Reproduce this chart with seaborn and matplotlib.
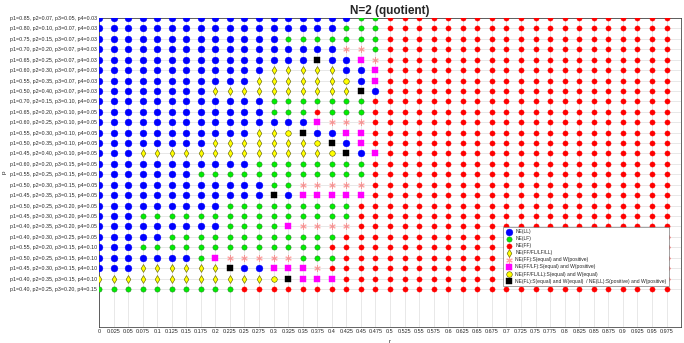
import numpy as np
import pandas as pd
import seaborn as sns
import matplotlib.pyplot as plt

# r values along the x axis
r_values = [0, 0.025, 0.05, 0.075, 0.1, 0.125, 0.15, 0.175, 0.2, 0.225,
            0.25, 0.275, 0.3, 0.325, 0.35, 0.375, 0.4, 0.425, 0.45, 0.475,
            0.5, 0.525, 0.55, 0.575, 0.6, 0.625, 0.65, 0.675, 0.7, 0.725,
            0.75, 0.775, 0.8, 0.825, 0.85, 0.875, 0.9, 0.925, 0.95, 0.975]

# probability settings (top to bottom)
p_labels = [
    "p1=0.85, p2=0.07, p3=0.05, p4=0.03",
    "p1=0.80, p2=0.10, p3=0.07, p4=0.03",
    "p1=0.75, p2=0.15, p3=0.07, p4=0.03",
    "p1=0.70, p2=0.20, p3=0.07, p4=0.03",
    "p1=0.65, p2=0.25, p3=0.07, p4=0.03",
    "p1=0.60, p2=0.30, p3=0.07, p4=0.03",
    "p1=0.55, p2=0.35, p3=0.07, p4=0.03",
    "p1=0.50, p2=0.40, p3=0.07, p4=0.03",
    "p1=0.70, p2=0.15, p3=0.10, p4=0.05",
    "p1=0.65, p2=0.20, p3=0.10, p4=0.05",
    "p1=0.60, p2=0.25, p3=0.10, p4=0.05",
    "p1=0.55, p2=0.30, p3=0.10, p4=0.05",
    "p1=0.50, p2=0.35, p3=0.10, p4=0.05",
    "p1=0.45, p2=0.40, p3=0.10, p4=0.05",
    "p1=0.60, p2=0.20, p3=0.15, p4=0.05",
    "p1=0.55, p2=0.25, p3=0.15, p4=0.05",
    "p1=0.50, p2=0.30, p3=0.15, p4=0.05",
    "p1=0.45, p2=0.35, p3=0.15, p4=0.05",
    "p1=0.50, p2=0.25, p3=0.20, p4=0.05",
    "p1=0.45, p2=0.30, p3=0.20, p4=0.05",
    "p1=0.40, p2=0.35, p3=0.20, p4=0.05",
    "p1=0.40, p2=0.30, p3=0.25, p4=0.05",
    "p1=0.55, p2=0.20, p3=0.15, p4=0.10",
    "p1=0.50, p2=0.25, p3=0.15, p4=0.10",
    "p1=0.45, p2=0.30, p3=0.15, p4=0.10",
    "p1=0.40, p2=0.35, p3=0.15, p4=0.10",
    "p1=0.40, p2=0.25, p3=0.20, p4=0.15",
]

# equilibrium type per (p row, r column)
# B=NE(LL) G=NE(LF) R=NE(FF) Y=NE(FF/FL/LF/LL) P=NE(FF):S eq W pos
# M=NE(FF/LF):S eq W pos O=NE(FF/FL/LL):S eq W eq K=NE(FL)/NE(LL) mixed
grid_rows = [
    "BBBBBBBBBBBBBBBBBBGG" "RRRRRRRRRRRRRRRRRRRR",
    "BBBBBBBBBBBBBBBBBGGG" "RRRRRRRRRRRRRRRRRRRR",
    "BBBBBBBBBBBBBGGGGGGG" "RRRRRRRRRRRRRRRRRRRR",
    "BBBBBBBBBBBBBBBBBPPG" "RRRRRRRRRRRRRRRRRRRR",
    "BBBBBBBBBBBBBBBKBBMP" "RRRRRRRRRRRRRRRRRRRR",
    "BBBBBBBBBBBBYYYYYBBM" "RRRRRRRRRRRRRRRRRRRR",
    "BBBBBBBBBBBYYYYYYOBM" "RRRRRRRRRRRRRRRRRRRR",
    "BBBBBBBBYYYYYYYYYYKB" "RRRRRRRRRRRRRRRRRRRR",
    "BBBBBBBBBBBBGGGGGGGR" "RRRRRRRRRRRRRRRRRRRR",
    "BBBBBBBBBBBBGGGRGGGR" "RRRRRRRRRRRRRRRRRRRR",
    "BBBBBBBBBBBBBBBMPPPR" "RRRRRRRRRRRRRRRRRRRR",
    "BBBBBBBBBBBYYOKBBMMR" "RRRRRRRRRRRRRRRRRRRR",
    "BBBBBBBBYYYYYYYOKBMR" "RRRRRRRRRRRRRRRRRRRR",
    "BBBYYYYYYYYYYYYYOKBM" "RRRRRRRRRRRRRRRRRRRR",
    "BBBBBBBBBBBGGGGGGGGR" "RRRRRRRRRRRRRRRRRRRR",
    "BBBBBBBGGGGGGGGGGGGR" "RRRRRRRRRRRRRRRRRRRR",
    "BBBBBBBBBBBBGGPPPPPR" "RRRRRRRRRRRRRRRRRRRR",
    "BBBBBBBBBBBBKBMMMMMR" "RRRRRRRRRRRRRRRRRRRR",
    "BBBBBBBBBGGGGGGGGGRR" "RRRRRRRRRRRRRRRRRRRR",
    "BBBGGGGGGGGGGGGGGGRR" "RRRRRRRRRRRRRRRRRRRR",
    "BBBBBBBBBGGGGMPPPPRR" "RRRRRRRRRRRRRRRRRRRR",
    "BBBBBGGGGGGGGGGGGRRR" "RRRRRRRRRRRRRRRRRRRR",
    "BBBGGGGGGGGGGGGGRRRR" "RRRRRRRRRRRRRRRRRRRR",
    "BBBBBBBGMPPPPPGGGRRR" "RRRRRRRRRRRRRRRRRRRR",
    "BBBYYYYYYKBBMMMPRRRR" "RRRRRRRRRRRRRRRRRRRR",
    "YYYYYYYYYYYYOKMMMRRR" "RRRRRRRRRRRRRRRRRRRR",
    "GGGGGGGGGGRRRRRRRRRR" "RRRRRRRRRRRRRRRRRRRR",
]

legend_labels = {
    "B": "NE(LL)",
    "G": "NE(LF)",
    "R": "NE(FF)",
    "Y": "NE(FF/FL/LF/LL)",
    "P": "NE(FF):S(equal) and W(positive)",
    "M": "NE(FF/LF):S(equal) and W(positive)",
    "O": "NE(FF/FL/LL):S(equal) and W(equal)",
    "K": "NE(FL):S(equal) and W(equal)  / NE(LL):S(positive) and W(positive)",
}

# marker, size, face, edge
styles = {
    "B": dict(marker="o", s=24, color="#0000ff", edgecolor="#0000ff", linewidth=0.3),
    "G": dict(marker="o", s=14, color="#00ee00", edgecolor="#228b22", linewidth=0.4),
    "R": dict(marker="o", s=14, color="#ff0000", edgecolor="#ff0000", linewidth=0.3),
    "Y": dict(marker="d", s=16, color="#ffff00", edgecolor="#555500", linewidth=0.4),
    "P": dict(marker=(6, 2, 0), s=16, color="#ff0000", alpha=0.35, linewidth=0.8),
    "M": dict(marker="s", s=13, color="#ff00ff", edgecolor="#ff00ff", linewidth=0.3),
    "O": dict(marker="o", s=16, color="#ffff00", edgecolor="#555500", linewidth=0.4),
    "K": dict(marker="s", s=17, color="#000000", edgecolor="#000000", linewidth=0.3),
}

n_rows = len(p_labels)
records = []
for i, row in enumerate(grid_rows):
    for j, code in enumerate(row):
        records.append({"r": r_values[j], "y": n_rows - i, "cat": code})
df = pd.DataFrame(records)

sns.set_style("white")
plt.rcParams["font.family"] = ["Liberation Sans", "DejaVu Sans"]

fig = plt.figure(figsize=(6.84, 3.43), dpi=100)
ax = fig.add_axes([0.1447, 0.0466, 0.851, 0.9009])

for code in ["B", "G", "R", "Y", "P", "M", "O", "K"]:
    sub = df[df["cat"] == code]
    sns.scatterplot(data=sub, x="r", y="y", label=legend_labels[code],
                    ax=ax, zorder=3, **styles[code])

ax.set_xlim(0, 1.0)
ax.set_ylim(-2.65, n_rows)
ax.set_xticks(r_values)
ax.set_xticklabels([f"{v:g}" for v in r_values], fontsize=4.0, color="#262626")
ax.set_yticks([n_rows - i for i in range(n_rows)])
ax.set_yticklabels(p_labels, fontsize=3.8, color="#262626")
ax.tick_params(direction="in", length=2.5, width=0.5, pad=1.5, colors="#262626")
ax.grid(True, color="#e4e4e4", linewidth=0.6, zorder=0)
ax.set_axisbelow(True)
for sp in ax.spines.values():
    sp.set_color("#262626")
    sp.set_linewidth(0.5)

ax.set_xlabel("r", fontsize=4.5)
ax.set_ylabel("p", fontsize=4.5)
ax.xaxis.set_label_coords(0.5, -0.04)
ax.yaxis.set_label_coords(-0.158, 0.5)
ax.set_title("N=2 (quotient)", fontsize=8.5, fontweight="bold", pad=3)

leg = ax.legend(loc="lower left", bbox_to_anchor=(0.694, 0.133), fontsize=3.6,
                frameon=True, fancybox=False, edgecolor="#7f7f7f",
                framealpha=1, borderpad=0.45, labelspacing=0.42,
                handletextpad=0.6, handlelength=1.4, borderaxespad=0)
leg.get_frame().set_linewidth(0.5)
leg.set_zorder(10)

fig.savefig("out.png", dpi=100)
